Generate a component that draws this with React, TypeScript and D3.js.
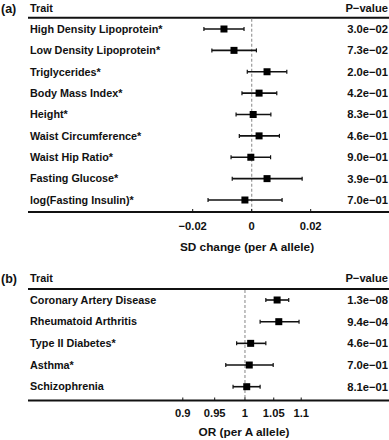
import React from "react";
import * as d3 from "d3";

const traitsA = [
  "High Density Lipoprotein*",
  "Low Density Lipoprotein*",
  "Triglycerides*",
  "Body Mass Index*",
  "Height*",
  "Waist Circumference*",
  "Waist Hip Ratio*",
  "Fasting Glucose*",
  "log(Fasting Insulin)*",
];
const estA = [-0.0094, -0.006, 0.0052, 0.0025, 0.0005, 0.0025, -0.0003, 0.0052, -0.0023];
const lowA = [-0.0162, -0.0135, -0.0015, -0.0033, -0.0053, -0.0042, -0.007, -0.0066, -0.0148];
const highA = [-0.0026, 0.0016, 0.0119, 0.0085, 0.0065, 0.0094, 0.0064, 0.0171, 0.0103];
const pA = ["3.0e−02", "7.3e−02", "2.0e−01", "4.2e−01", "8.3e−01", "4.6e−01", "9.0e−01", "3.9e−01", "7.0e−01"];
const ticksA = [-0.02, 0, 0.02];
const tickLabelsA = ["−0.02", "0", "0.02"];

const traitsB = [
  "Coronary Artery Disease",
  "Rheumatoid Arthritis",
  "Type II Diabetes*",
  "Asthma*",
  "Schizophrenia",
];
const estB = [1.056, 1.059, 1.0097, 1.0073, 1.003];
const lowB = [1.036, 1.026, 0.986, 0.968, 0.98];
const highB = [1.077, 1.096, 1.036, 1.049, 1.026];
const pB = ["1.3e−08", "9.4e−04", "4.6e−01", "7.0e−01", "8.1e−01"];
const ticksB = [0.9, 0.95, 1, 1.05, 1.1];
const tickLabelsB = ["0.9", "0.95", "1", "1.05", "1.1"];

const FONT = "'Liberation Sans', Arial, Helvetica, sans-serif";
const FS = 10.8;
const FSP = 11.2;

type PanelProps = {
  tag: string;
  traits: string[];
  est: number[];
  low: number[];
  high: number[];
  pv: string[];
  x: (v: number) => number;
  ticks: number[];
  tickLabels: string[];
  refValue: number;
  headerY: number;
  topLine: number;
  rowRange: [number, number];
  bottomLine: number;
  tickLabelY: number;
  title: string;
  titleX: number;
  titleY: number;
};

function Panel(p: PanelProps) {
  const y = d3.scalePoint<string>().domain(p.traits).range(p.rowRange);
  const sq = 7;
  const cap = 2;
  const xRef = p.x(p.refValue);
  return (
    <g fontFamily={FONT} fontWeight="bold" fontSize={FS} fill="#111">
      <text x={1} y={p.headerY} dy="0.35em" fontSize={12.5}>{p.tag}</text>
      <text x={30} y={p.headerY} dy="0.35em">Trait</text>
      <text x={388} y={p.headerY} dy="0.35em" textAnchor="end" fontSize={FSP}>P−value</text>
      <line x1={28} x2={389} y1={p.topLine} y2={p.topLine} stroke="#111" strokeWidth={2} />
      <line
        x1={xRef}
        x2={xRef}
        y1={p.topLine + 1}
        y2={p.bottomLine}
        stroke="#9a9a9a"
        strokeWidth={1.2}
        strokeDasharray="3,2"
      />
      {p.traits.map((t, i) => {
        const yy = y(t) as number;
        return (
          <g key={t}>
            <text x={30} y={yy} dy="0.35em">{t}</text>
            <text x={388} y={yy} dy="0.35em" textAnchor="end" fontSize={FSP}>{p.pv[i]}</text>
            <line x1={p.x(p.low[i])} x2={p.x(p.high[i])} y1={yy} y2={yy} stroke="#111" strokeWidth={1.6} />
            <line x1={p.x(p.low[i])} x2={p.x(p.low[i])} y1={yy - cap} y2={yy + cap} stroke="#111" strokeWidth={1.2} />
            <line x1={p.x(p.high[i])} x2={p.x(p.high[i])} y1={yy - cap} y2={yy + cap} stroke="#111" strokeWidth={1.2} />
            <rect x={p.x(p.est[i]) - sq / 2} y={yy - sq / 2} width={sq} height={sq} fill="#000" />
          </g>
        );
      })}
      <line x1={28} x2={389} y1={p.bottomLine} y2={p.bottomLine} stroke="#111" strokeWidth={2} />
      {p.ticks.map((t, i) => (
        <g key={i}>
          <line x1={p.x(t)} x2={p.x(t)} y1={p.bottomLine - 3} y2={p.bottomLine} stroke="#111" strokeWidth={1} />
          <text x={p.x(t)} y={p.tickLabelY} dy="0.35em" textAnchor="middle" fontSize={FSP}>{p.tickLabels[i]}</text>
        </g>
      ))}
      <text x={p.titleX} y={p.titleY} dy="0.35em" textAnchor="middle" fontSize={11.8}>{p.title}</text>
    </g>
  );
}

export default function App() {
  const xA = d3.scaleLinear().domain([-0.02, 0.02]).range([192.7, 310.7]);
  const xB = d3.scaleLog().domain([0.9, 1.1]).range([182.8, 301.2]);
  return (
    <svg
      width={389}
      height={440}
      style={{ position: "absolute", left: 0, top: 0, background: "#fff" }}
    >
      <rect width={389} height={440} fill="#fff" />
      <Panel
        tag="(a)"
        traits={traitsA}
        est={estA}
        low={lowA}
        high={highA}
        pv={pA}
        x={(v) => xA(v)}
        ticks={ticksA}
        tickLabels={tickLabelsA}
        refValue={0}
        headerY={8.5}
        topLine={17.7}
        rowRange={[29, 200]}
        bottomLine={212}
        tickLabelY={226.5}
        title="SD change (per A allele)"
        titleX={247}
        titleY={247}
      />
      <Panel
        tag="(b)"
        traits={traitsB}
        est={estB}
        low={lowB}
        high={highB}
        pv={pB}
        x={(v) => xB(v)}
        ticks={ticksB}
        tickLabels={tickLabelsB}
        refValue={1}
        headerY={278.5}
        topLine={289}
        rowRange={[300, 386.7]}
        bottomLine={400.5}
        tickLabelY={413.5}
        title="OR (per A allele)"
        titleX={244}
        titleY={432}
      />
    </svg>
  );
}
